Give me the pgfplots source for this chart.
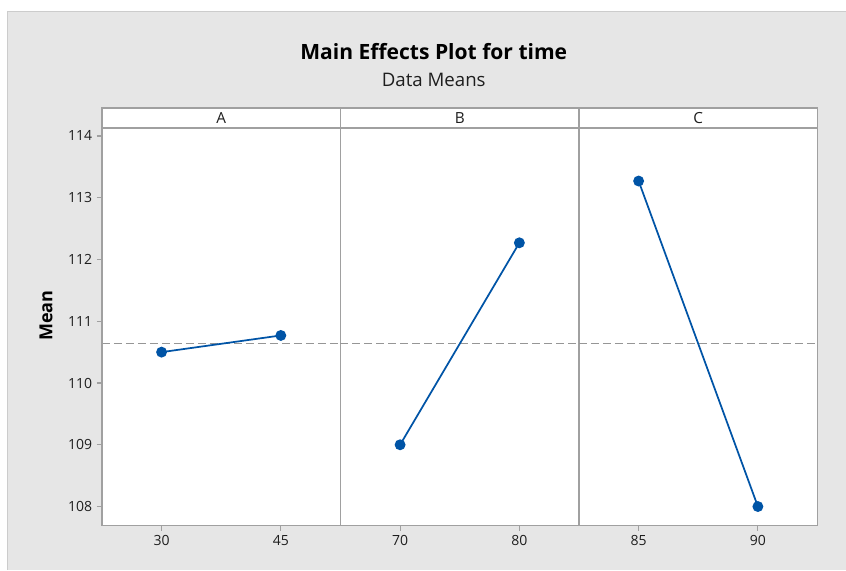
\documentclass[border=0pt]{standalone}
\usepackage{pgfplots}
\pgfplotsset{compat=1.18}
\usepackage{fontspec}
\setmainfont{Open Sans}
\definecolor{bgg}{RGB}{230,230,230}
\definecolor{framec}{RGB}{160,160,160}
\definecolor{ptblue}{RGB}{0,84,166}
\definecolor{refgray}{RGB}{150,150,150}
\definecolor{txt}{RGB}{30,30,30}
\begin{document}
\begin{tikzpicture}[x=0.75pt,y=0.75pt]
\fill[white] (0,0) rectangle (846,570);
\fill[bgg] (8,0) rectangle (846,558);
\draw[color=black!20,line width=0.75pt] (8,0) -- (8,558) -- (846,558);
\pgfplotsset{
  panel/.style={
    scale only axis, width=179pt, height=298.5pt,
    xmin=-0.5, xmax=1.5, ymin=107.69, ymax=114.13,
    axis line style={framec, line width=1.1pt},
    axis background/.style={fill=white},
    tick style={framec, line width=0.9pt},
    tick align=outside, major tick length=3.75pt,
    xtick={0,1}, xtick pos=bottom, ytick pos=left,
    ytick={108,109,110,111,112,113,114},
    tick label style={font=\fontsize{10.5}{13}\selectfont, text=txt},
    /pgf/number format/assume math mode=true,
    every axis plot/.append style={line width=1.3pt},
    clip=false,
  },
  meanline/.style={refgray, line width=1pt, dash pattern=on 6pt off 3pt},
  eff/.style={ptblue, mark=*, mark size=3.4pt, mark options={solid, fill=ptblue, draw=ptblue}},
}
% Panel A
\begin{axis}[panel, name=pa, at={(76.5pt,33pt)}, anchor=south west,
  xticklabels={30,45}]
\addplot[meanline, forget plot] coordinates {(-0.5,110.635) (1.5,110.635)};
\addplot[eff] coordinates {(0,110.50) (1,110.77)};
\end{axis}
% Panel B
\begin{axis}[panel, name=pb, at={(255.5pt,33pt)}, anchor=south west,
  xticklabels={70,80}, yticklabels={}, ytick=\empty]
\addplot[meanline, forget plot] coordinates {(-0.5,110.635) (1.5,110.635)};
\addplot[eff] coordinates {(0,109.00) (1,112.27)};
\end{axis}
% Panel C
\begin{axis}[panel, name=pc, at={(434.5pt,33pt)}, anchor=south west,
  xticklabels={85,90}, yticklabels={}, ytick=\empty]
\addplot[meanline, forget plot] coordinates {(-0.5,110.635) (1.5,110.635)};
\addplot[eff] coordinates {(0,113.27) (1,108.00)};
\end{axis}
% header strips
\foreach \n/\l in {pa/A,pb/B,pc/C}{
  \draw[framec, line width=1.1pt, fill=white] (\n.north west) rectangle ++(179pt,15pt);
  \node[text=txt, font=\fontsize{11.5}{14}\selectfont] at ([yshift=7.5pt]\n.north) {\l};
}
\draw[framec, line width=1.1pt] (pa.north west) rectangle (pc.south east);
% titles
\node[font=\bfseries\fontsize{15.8}{18}\selectfont, text=black] at (434,518) {Main Effects Plot for time};
\node[font=\fontsize{14}{16}\selectfont, text=txt] at (434,490) {Data Means};
\node[font=\bfseries\fontsize{13.5}{16}\selectfont, text=black, rotate=90] at (46,254) {Mean};
\end{tikzpicture}
\end{document}
